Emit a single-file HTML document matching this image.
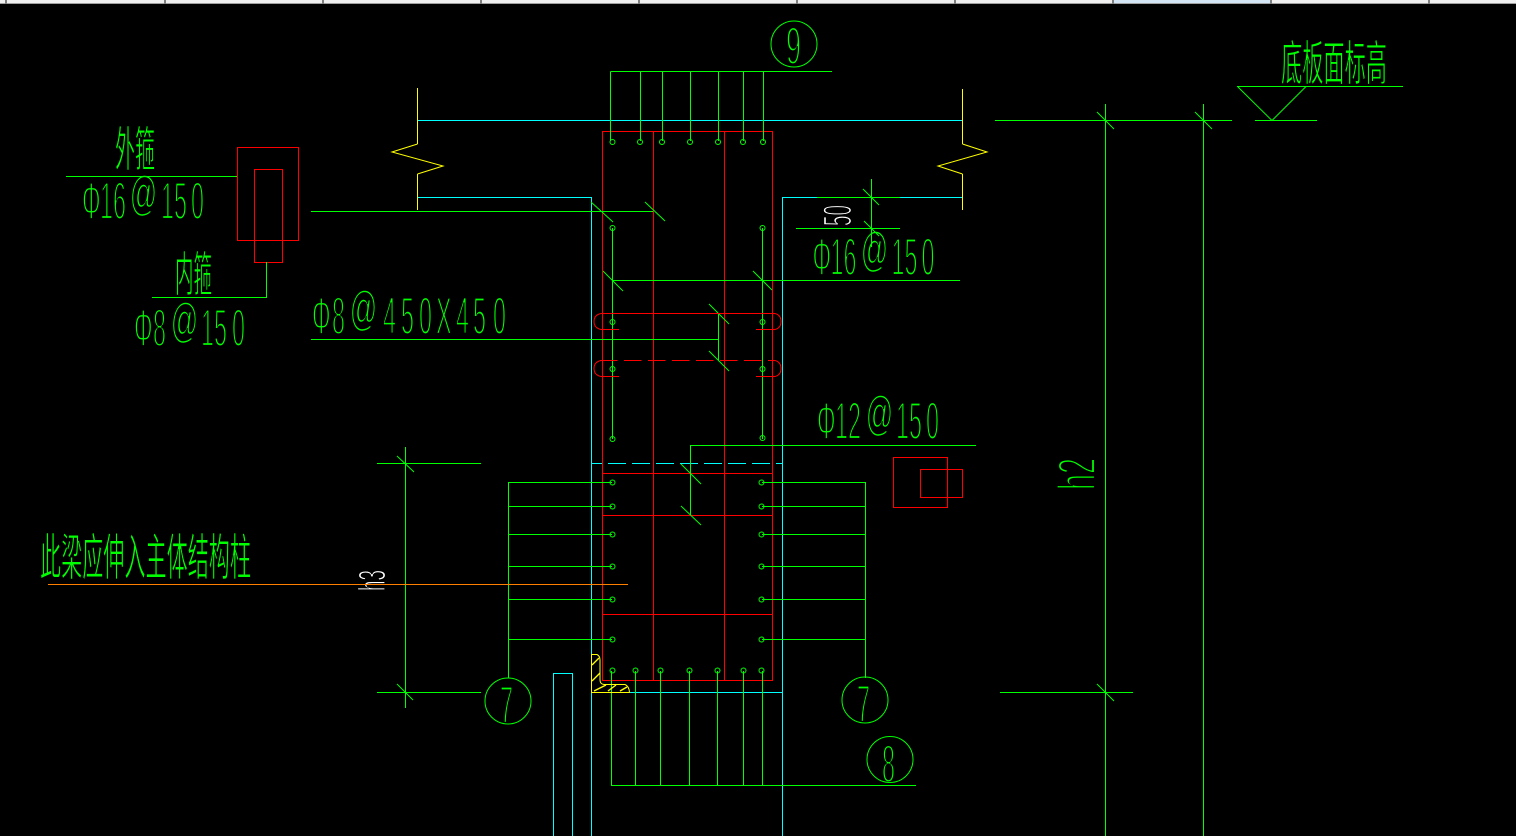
<!DOCTYPE html>
<html lang="zh">
<head>
<meta charset="utf-8">
<title>Diagram</title>
<style>
html,body{margin:0;padding:0;background:#000;width:1516px;height:836px;overflow:hidden}
svg{display:block;position:absolute;left:0;top:0}
.t{font-family:"Liberation Sans","DejaVu Sans",sans-serif;fill:#00ff00;stroke:#000;stroke-width:2.2}
.a{font-family:"Liberation Sans","DejaVu Sans",sans-serif;fill:#00ff00;stroke:#000;stroke-width:1.6;font-size:48px}
.c{font-family:"Liberation Sans","Noto Sans CJK SC",sans-serif;fill:#00ff00;stroke:#000;stroke-width:1}
.w{fill:#fff}
.g{stroke:#00ff00;fill:none}
.r{stroke:#ff0000;fill:none}
.b{stroke:#00ffff;fill:none}
.y{stroke:#ffff00;fill:none}
</style>
</head>
<body>
<svg width="1516" height="836" viewBox="0 0 1516 836" xmlns="http://www.w3.org/2000/svg">
<rect width="1516" height="836" fill="#000"/>
<!-- top strip -->
<rect x="0" y="0" width="1516" height="3" fill="#f0f0f0"/>
<rect x="1112" y="0" width="158" height="3" fill="#d4e6f5"/>
<rect x="0" y="3" width="1516" height="1" fill="#a0a0a0"/>
<g fill="#808080">
<rect x="5" y="0" width="2" height="4"/><rect x="164" y="0" width="2" height="4"/><rect x="322" y="0" width="2" height="4"/><rect x="480" y="0" width="2" height="4"/><rect x="638" y="0" width="2" height="4"/><rect x="796" y="0" width="2" height="4"/><rect x="954" y="0" width="2" height="4"/><rect x="1112" y="0" width="2" height="4"/><rect x="1270" y="0" width="2" height="4"/><rect x="1428" y="0" width="2" height="4"/>
</g>

<!-- text -->
<text class="c" x="115" y="166" font-size="48" textLength="40" lengthAdjust="spacingAndGlyphs">外箍</text>
<text class="t" transform="translate(0,219) scale(.44,1)" font-size="53" x="186.4 227.3 256.8">Φ16</text>
<text class="a" transform="translate(129.6,210) scale(.57,1)">@</text>
<text class="t" transform="translate(0,219) scale(.44,1)" font-size="53" x="365.9 395.5 434.1">150</text>
<text class="c" x="175" y="291" font-size="48" textLength="37" lengthAdjust="spacingAndGlyphs">内箍</text>
<text class="t" transform="translate(0,346) scale(.44,1)" font-size="53" x="304.5 347.7">Φ8</text>
<text class="a" transform="translate(170.6,337) scale(.57,1)">@</text>
<text class="t" transform="translate(0,346) scale(.44,1)" font-size="53" x="456.8 486.4 527.3">150</text>
<text class="t" transform="translate(0,334) scale(.44,1)" font-size="53" x="709.1 754.5">Φ8</text>
<text class="a" transform="translate(349.6,325) scale(.57,1)">@</text>
<text class="t" transform="translate(0,334) scale(.44,1)" font-size="53" x="870.5 911.4 952.3 990.9 1036.4 1075 1120.5">450X450</text>
<text class="t" transform="translate(730.5,275) scale(.44,1)" font-size="53" x="186.4 227.3 256.8">Φ16</text>
<text class="a" transform="translate(860.6,266) scale(.57,1)">@</text>
<text class="t" transform="translate(730.5,275) scale(.44,1)" font-size="53" x="365.9 395.5 434.1">150</text>
<text class="t" transform="translate(735,439) scale(.44,1)" font-size="53" x="186.4 227.3 256.8">Φ12</text>
<text class="a" transform="translate(865.6,430) scale(.57,1)">@</text>
<text class="t" transform="translate(735,439) scale(.44,1)" font-size="53" x="365.9 395.5 434.1">150</text>
<text class="c" x="40" y="575" font-size="50" textLength="211" lengthAdjust="spacingAndGlyphs">此梁应伸入主体结构柱</text>
<text class="c" x="1281" y="80" font-size="48" textLength="106" lengthAdjust="spacingAndGlyphs">底板面标高</text>
<text class="t" x="786" y="64" font-size="53" textLength="15" lengthAdjust="spacingAndGlyphs">9</text>
<text class="t" x="500" y="723" font-size="53" textLength="13" lengthAdjust="spacingAndGlyphs">7</text>
<text class="t" x="857" y="722" font-size="53" textLength="13" lengthAdjust="spacingAndGlyphs">7</text>
<text class="t" x="882" y="782" font-size="53" textLength="13" lengthAdjust="spacingAndGlyphs">8</text>
<text class="t" transform="translate(1095,490) rotate(-90)" x="0" y="0" font-size="53" textLength="32" lengthAdjust="spacingAndGlyphs">h2</text>
<text class="t w" transform="translate(851,226) rotate(-90)" x="0" y="0" font-size="40" textLength="21" lengthAdjust="spacingAndGlyphs" style="stroke-width:1.4">50</text>
<text class="t w" transform="translate(385,591) rotate(-90)" x="0" y="0" font-size="38" textLength="21" lengthAdjust="spacingAndGlyphs" style="stroke-width:1.2">h3</text>

<g shape-rendering="crispEdges">
<!-- cyan -->
<path class="b" d="M417 120.5H962M417 197.5H591.5V836M962 197.5H782.5V836M591.5 692.5H782.5M553.5 836V673.5H572.5V836"/>
<path class="b" d="M592 463.5H782" stroke-dasharray="18 6" stroke-dashoffset="8"/>
<!-- red column -->
<path class="r" d="M602.5 131.5H772.5V680.5H602.5ZM653.5 131.5V680.5M724.5 131.5V680.5M602.5 473.5H772.5M602.5 515.5H772.5M602.5 614.5H772.5"/>
<path class="r" d="M237.5 147.5H298.5V240.5H237.5ZM254.5 169.5H282.5V262.5H254.5Z"/>
<path class="r" d="M893.5 457.5H947.5V507.5H893.5ZM920.5 469.5H962.5V497.5H920.5Z"/>
<!-- green lines -->
<path class="g" d="M610.5 71.5H832M610.5 71.5V141M640.5 71.5V141M662.5 71.5V141M690.5 71.5V141M718.5 71.5V141M743.5 71.5V141M763.5 71.5V141"/>
<path class="g" d="M311 211.5H653M612.5 228V439M762.5 228V439M612 280.5H960M718.5 313.5V360.5M311 339.5H718.5"/>
<path class="g" d="M690.5 515V445.5H976"/>
<path class="g" d="M66 176.5H237M266.5 262V297.5H152"/>
<path class="g" d="M796 228.5H900M871.5 179V247M817 197.5H900"/>
<path class="g" d="M508.5 678V482.5H612M508.5 506.5H612M508.5 534.5H612M508.5 566.5H612M508.5 599.5H612M508.5 639.5H612"/>
<path class="g" d="M865.5 678V482.5H762M865.5 506.5H762M865.5 534.5H762M865.5 566.5H762M865.5 599.5H762M865.5 639.5H762"/>
<path class="g" d="M611.5 671V785.5H916M635.5 671V785.5M660.5 671V785.5M689.5 671V785.5M717.5 671V785.5M743.5 671V785.5M762.5 671V785.5"/>
<path class="g" d="M377 463.5H481M377 692.5H481M405.5 447V708"/>
<path class="g" d="M995 120.5H1232M1105.5 104V836M1203.5 104V836M1000 692.5H1133"/>
<path class="g" d="M1237 86.5H1403M1255 120.5H1317"/>
<!-- orange -->
<path d="M48 584.5H628" stroke="#ff7f00" fill="none"/>
<!-- yellow verticals -->
<path class="y" d="M417.5 88V144M417.5 174V210M962.5 89V144M962.5 174V210"/>
</g>

<!-- yellow zigzags -->
<path class="y" d="M417.5 144L392 152L443 166L417.5 174"/>
<path class="y" d="M962.5 144L987 152L938 166L962.5 174"/>
<!-- yellow weld -->
<path class="y" d="M591.5 654.5H597Q600 656 600 660V680Q600 684 604 684.5H625Q629 686 629.5 692.5H591.5Z"/>
<path class="y" stroke-width="1.4" d="M592 665L599 658M592 681L600 673M594 691L606 685M608 691L616 685M620 691L627 687"/>
<!-- triangle -->
<path class="g" d="M1237.5 86.5L1272 120.5L1306 86.5"/>
<!-- ticks -->
<path class="g" d="M591 202L613 222M645 202L665 221M603 271L623 291M753 271L772 290M709 304L729 324M709 351L729 371M681 464L701 484M681 506L701 525M863 189L879 205M864 221L879 236M397 456L414 472M397 684L413 700M1097 112L1114 129M1195 112L1212 129M1097 684L1114 701"/>
<!-- red hooks -->
<path class="r" d="M619 329.5H601Q594 328 594 321.5Q594 315 601 313.5H775Q781 315 781 321.5Q781 328 775 329.5H756"/>
<path class="r" d="M619 376.5H601Q594 375 594 368.5Q594 362 601 360.5"/>
<path class="r" d="M756 376.5H775Q781 375 781 368.5Q781 362 775 360.5"/>
<path class="r" d="M600 360.5H775" stroke-dasharray="17.5 6.5"/>
<!-- circles -->
<g class="g" fill="none" stroke="#00ff00">
<circle cx="794" cy="44" r="23"/><circle cx="508" cy="701" r="23"/><circle cx="865" cy="700" r="23"/><circle cx="890" cy="759.5" r="23"/>
<circle cx="612.5" cy="142" r="2.5"/><circle cx="640" cy="142" r="2.5"/><circle cx="662" cy="142" r="2.5"/><circle cx="690" cy="142" r="2.5"/><circle cx="718" cy="142" r="2.5"/><circle cx="743" cy="142" r="2.5"/><circle cx="763" cy="142" r="2.5"/>
<circle cx="612.5" cy="228" r="2.5"/><circle cx="762.5" cy="228" r="2.5"/><circle cx="612.5" cy="322" r="2.5"/><circle cx="762.5" cy="322" r="2.5"/><circle cx="612.5" cy="369" r="2.5"/><circle cx="762.5" cy="369" r="2.5"/><circle cx="612.5" cy="439" r="2.5"/><circle cx="762.5" cy="438" r="2.5"/>
<circle cx="612.5" cy="482.5" r="2.5"/><circle cx="612.5" cy="506.5" r="2.5"/><circle cx="612.5" cy="534.5" r="2.5"/><circle cx="612.5" cy="566.5" r="2.5"/><circle cx="612.5" cy="599.5" r="2.5"/><circle cx="612.5" cy="639.5" r="2.5"/>
<circle cx="761.5" cy="482.5" r="2.5"/><circle cx="761.5" cy="506.5" r="2.5"/><circle cx="761.5" cy="534.5" r="2.5"/><circle cx="761.5" cy="566.5" r="2.5"/><circle cx="761.5" cy="599.5" r="2.5"/><circle cx="761.5" cy="639.5" r="2.5"/>
<circle cx="612.5" cy="670.5" r="2.5"/><circle cx="635.5" cy="670.5" r="2.5"/><circle cx="660.5" cy="670.5" r="2.5"/><circle cx="689.5" cy="670.5" r="2.5"/><circle cx="717.5" cy="670.5" r="2.5"/><circle cx="743.5" cy="670.5" r="2.5"/><circle cx="761.5" cy="670.5" r="2.5"/>
</g>
</svg>
</body>
</html>
